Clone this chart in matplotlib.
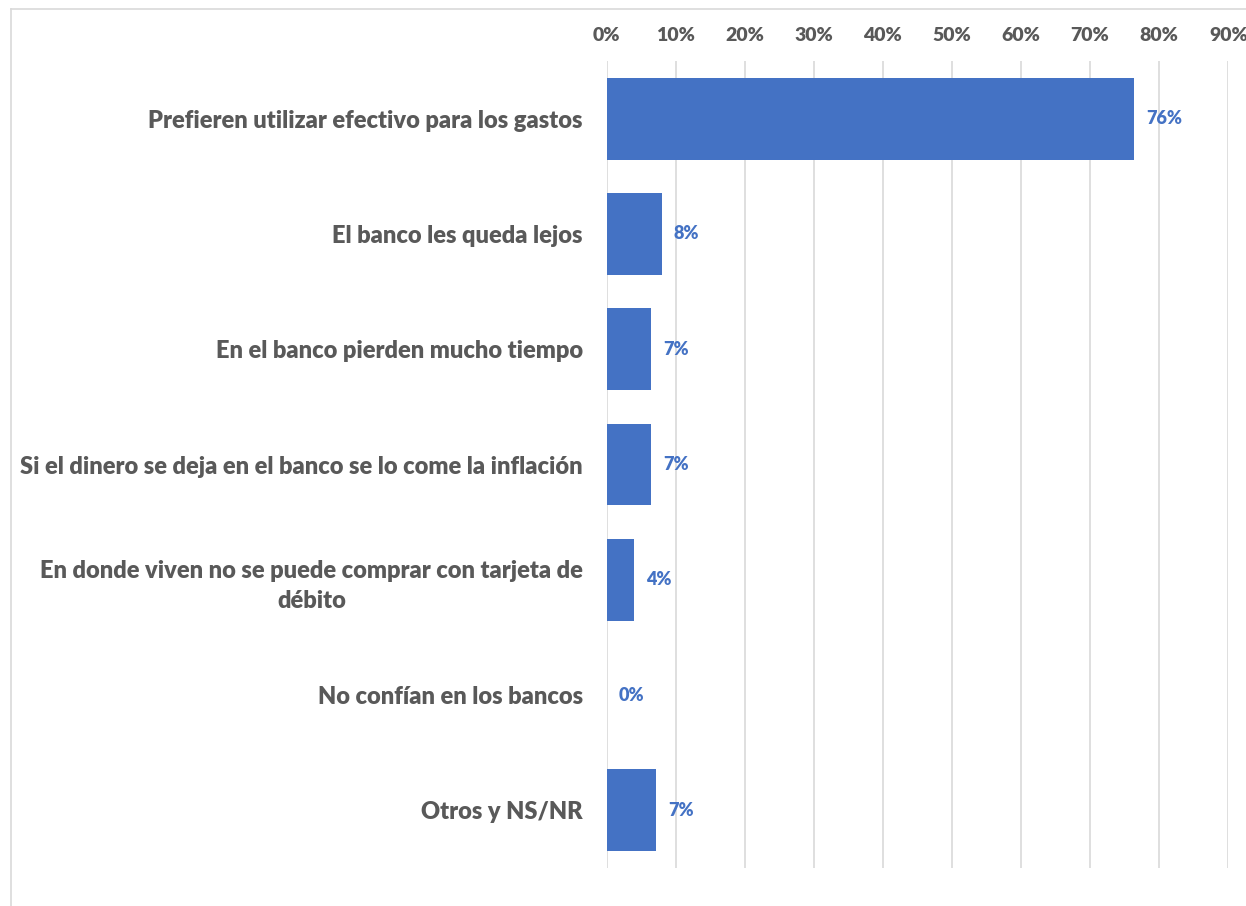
import matplotlib.pyplot as plt
from matplotlib.lines import Line2D

categories = [
    "Prefieren utilizar efectivo para los gastos",
    "El banco les queda lejos",
    "En el banco pierden mucho tiempo",
    "Si el dinero se deja en el banco se lo come la inflación",
    "En donde viven no se puede comprar con tarjeta de\ndébito",
    "No confían en los bancos",
    "Otros y NS/NR",
]
values = [0.764, 0.080, 0.065, 0.065, 0.040, 0.0, 0.072]
value_labels = ["76%", "8%", "7%", "7%", "4%", "0%", "7%"]
x_ticks = [0.0, 0.1, 0.2, 0.3, 0.4, 0.5, 0.6, 0.7, 0.8, 0.9]
x_ticklabels = [f"{int(round(t * 100))}%" for t in x_ticks]

BLUE = "#4472C4"
TEXT = "#595959"
GRID = "#D9D9D9"
FONT = "Lato"

W, H = 1246, 906
fig = plt.figure(figsize=(W / 100, H / 100), dpi=100)
ax = fig.add_axes([606.5 / W, 1 - 868 / H, (1228.3 - 606.5) / W, (868 - 61) / H])

ypos = list(range(len(categories)))
ax.barh(ypos, values, height=0.71, color=BLUE, zorder=3)

for y, v, lab in zip(ypos, values, value_labels):
    ax.annotate(lab, (v, y), xytext=(8.5, 0), textcoords="offset points",
                va="center", ha="left", color=BLUE, fontsize=13,
                fontweight="heavy", family=FONT)

ax.set_xlim(0, 0.9)
ax.set_ylim(len(categories) - 0.5, -0.5)
ax.set_xticks(x_ticks)
ax.set_xticklabels(x_ticklabels)
ax.set_yticks(ypos)
ax.set_yticklabels(categories, multialignment="center", linespacing=1.45)
ax.xaxis.tick_top()
ax.tick_params(axis="x", length=0, pad=12, labelsize=14, labelcolor=TEXT)
ax.tick_params(axis="y", length=0, pad=17, labelsize=17.0, labelcolor=TEXT)
for lab in ax.get_xticklabels() + ax.get_yticklabels():
    lab.set_fontweight("heavy")
    lab.set_family(FONT)

ax.grid(axis="x", color=GRID, linewidth=1.2, zorder=0)
for s in ax.spines.values():
    s.set_visible(False)

# outer chart-area border (only top and left visible in the crop)
bx, by = 10.5 / W, 1 - 9 / H
fig.add_artist(Line2D([bx, bx], [0, by], color=GRID, lw=1.2, transform=fig.transFigure))
fig.add_artist(Line2D([bx, 1], [by, by], color=GRID, lw=1.2, transform=fig.transFigure))

fig.savefig("out.png", dpi=100)
